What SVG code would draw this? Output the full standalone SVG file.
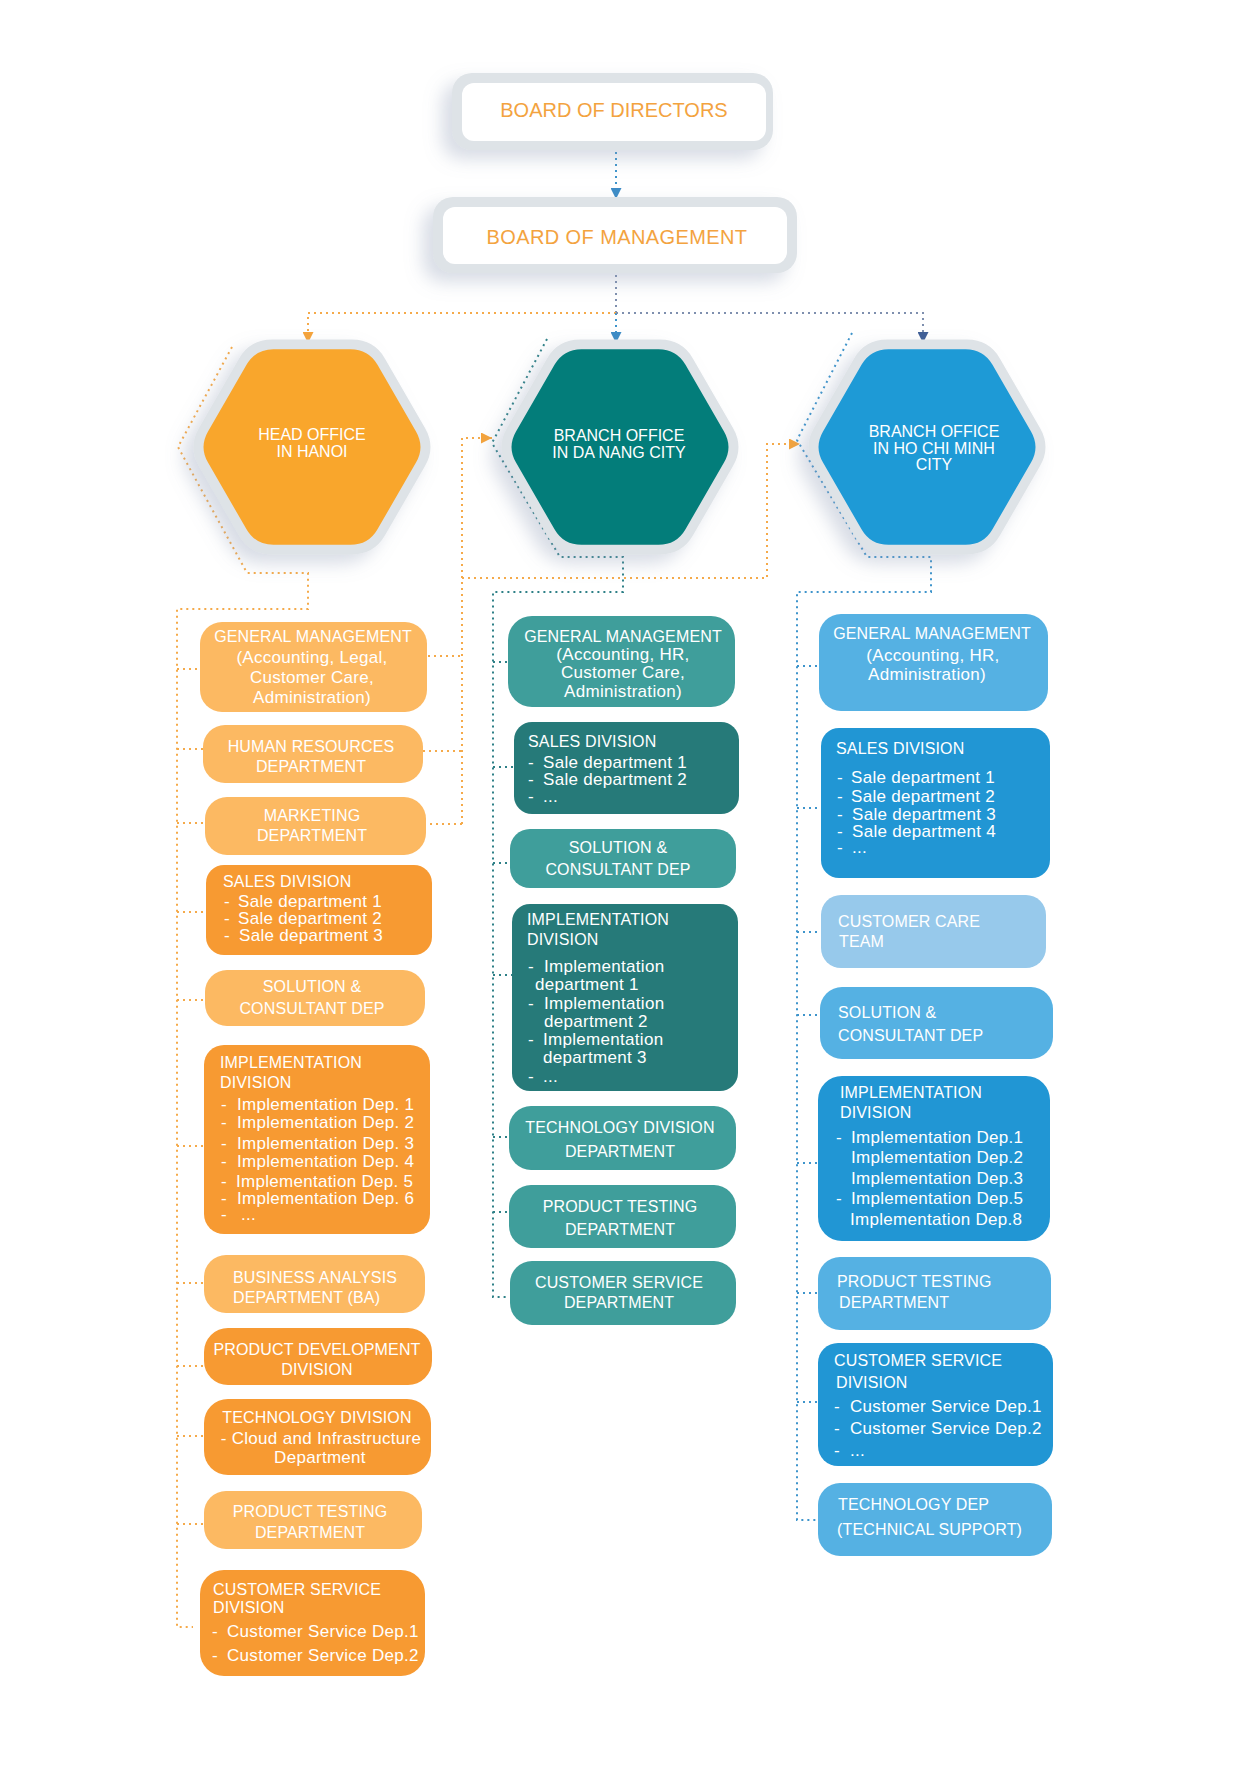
<svg xmlns="http://www.w3.org/2000/svg" xmlns:xlink="http://www.w3.org/1999/xlink" width="1241" height="1773" viewBox="0 0 1241 1773">
<style>
text{font-family:"Liberation Sans",Arial,sans-serif;fill:#fff}
.c{font-size:16px;letter-spacing:0.15px}
.l{font-size:17px;letter-spacing:0.3px}
.m{text-anchor:middle}
.board{font-size:20px;fill:#F3A33F;text-anchor:middle}
.hx{font-size:16px;text-anchor:middle}
.d{fill:none;stroke-width:2;stroke-dasharray:2 4}
.or{stroke:#F5AA4A}
.te{stroke:#2E8087}
.bl{stroke:#3E94CB}
.gb{stroke:#7E8FAE}
.oL{fill:#FCB962}.oD{fill:#F79A32}
.tL{fill:#3F9E9B}.tD{fill:#267A79}
.bL{fill:#55B1E3}.bD{fill:#2196D4}.bX{fill:#97C9EB}
.frame{fill:#DEE3E7}
</style>
<defs>
<filter id="sh" x="-30%" y="-30%" width="160%" height="170%">
<feDropShadow dx="-10" dy="9" stdDeviation="9" flood-color="#8E9AB5" flood-opacity="0.35"/>
</filter>
<path id="hexF" d="M40,-107.4 Q62,-107.4 73,-88.35 L113,-19.05 Q124,0 113,19.05 L73,88.35 Q62,107.4 40,107.4 L-40,107.4 Q-62,107.4 -73,88.35 L-113,19.05 Q-124,0 -113,-19.05 L-73,-88.35 Q-62,-107.4 -40,-107.4 Z"/>
<path id="hexI" d="M38.5,-97.86 Q56.5,-97.86 65.5,-82.27 L104,-15.59 Q113,0 104,15.59 L65.5,82.27 Q56.5,97.86 38.5,97.86 L-38.5,97.86 Q-56.5,97.86 -65.5,82.27 L-104,15.59 Q-113,0 -104,-15.59 L-65.5,-82.27 Q-56.5,-97.86 -38.5,-97.86 Z"/>
<marker id="aO" markerUnits="userSpaceOnUse" markerWidth="11" markerHeight="11" refX="10" refY="5" orient="auto" viewBox="0 0 10 10"><path d="M0,0 L10,5 L0,10 Z" fill="#F5A33A"/></marker>
<marker id="aB" markerUnits="userSpaceOnUse" markerWidth="11" markerHeight="11" refX="10" refY="5" orient="auto" viewBox="0 0 10 10"><path d="M0,0 L10,5 L0,10 Z" fill="#3D8CC6"/></marker>
<marker id="aN" markerUnits="userSpaceOnUse" markerWidth="11" markerHeight="11" refX="10" refY="5" orient="auto" viewBox="0 0 10 10"><path d="M0,0 L10,5 L0,10 Z" fill="#3F5E96"/></marker>
</defs>
<rect width="1241" height="1773" fill="#fff"/>

<g id="connectors">
<path class="d bl" d="M616,152 V199" marker-end="url(#aB)"/>
<path class="d gb" d="M616,275 V313"/>
<path class="d or" d="M616,313 H308 V343" marker-end="url(#aO)"/>
<path class="d bl" d="M616,313 V343" marker-end="url(#aB)"/>
<path class="d gb" d="M616,313 H923 V343" marker-end="url(#aN)"/>
<path class="d or" d="M232,347 L178,447 L247,573 H308 V609 H177 V1627 H193"/>
<path class="d or" d="M177,669 H200 M177,749 H203 M177,823 H205 M177,912 H206 M177,1000 H205 M177,1146 H204 M177,1283 H204 M177,1366 H204 M177,1436 H204 M177,1524 H204"/>
<path class="d or" d="M428,656 H462 M423,751 H462 M430,824 H462"/>
<path class="d or" d="M462,824 V438 H492" marker-end="url(#aO)"/>
<path class="d or" d="M462,578 H767 V444 H800" marker-end="url(#aO)"/>
<path class="d te" d="M547,339 L492,443 L560,557 H623 V592 H493 V1297 H508"/>
<path class="d te" d="M493,662 H508 M493,767 H514 M493,863 H510 M493,975 H512 M493,1137 H509 M493,1212 H509"/>
<path class="d bl" d="M852,333 L797,440 L867,557 H931 V592 H797 V1520 H818"/>
<path class="d bl" d="M797,666 H819 M797,808 H821 M797,932 H821 M797,1015 H820 M797,1163 H818 M797,1293 H818 M797,1402 H818"/>
</g>

<g id="board-of-directors">
<rect class="frame" x="452" y="73" width="321" height="77" rx="20" filter="url(#sh)"/>
<rect x="462" y="83" width="304" height="58" rx="12" fill="#fff"/>
<text class="board" x="614" y="117">BOARD OF DIRECTORS</text>
</g>
<g id="board-of-management">
<rect class="frame" x="433" y="197" width="364" height="76" rx="20" filter="url(#sh)"/>
<rect x="443" y="207" width="344" height="57" rx="12" fill="#fff"/>
<text class="board" x="617" y="244" letter-spacing="0.4">BOARD OF MANAGEMENT</text>
</g>

<g id="head-office-hanoi">
<use xlink:href="#hexF" x="312" y="447" class="frame" filter="url(#sh)"/>
<use xlink:href="#hexI" x="312" y="447" fill="#F9A62C"/>
<text class="hx" x="312" y="440">HEAD OFFICE</text>
<text class="hx" x="312" y="457">IN HANOI</text>
</g>
<g id="branch-da-nang">
<use xlink:href="#hexF" x="620" y="447" class="frame" filter="url(#sh)"/>
<use xlink:href="#hexI" x="620" y="447" fill="#037D7A"/>
<text class="hx" x="619" y="441">BRANCH OFFICE</text>
<text class="hx" x="619" y="458">IN DA NANG CITY</text>
</g>
<g id="branch-hcm">
<use xlink:href="#hexF" x="927" y="447" class="frame" filter="url(#sh)"/>
<use xlink:href="#hexI" x="927" y="447" fill="#1E9AD6"/>
<text class="hx" x="934" y="437">BRANCH OFFICE</text>
<text class="hx" x="934" y="454">IN HO CHI MINH</text>
<text class="hx" x="934" y="470">CITY</text>
</g>

<!-- Hanoi column -->
<g id="hn-general-management">
<rect class="oL" x="200" y="622" width="227" height="90" rx="22"/>
<text class="c m" x="313" y="642">GENERAL MANAGEMENT</text>
<text class="l m" x="312" y="663">(Accounting, Legal,</text>
<text class="l m" x="312" y="683">Customer Care,</text>
<text class="l m" x="312" y="703">Administration)</text>
</g>
<g id="hn-hr">
<rect class="oL" x="203" y="725" width="220" height="58" rx="22"/>
<text class="c m" x="311" y="752">HUMAN RESOURCES</text>
<text class="c m" x="311" y="772">DEPARTMENT</text>
</g>
<g id="hn-marketing">
<rect class="oL" x="205" y="797" width="221" height="58" rx="22"/>
<text class="c m" x="312" y="821">MARKETING</text>
<text class="c m" x="312" y="841">DEPARTMENT</text>
</g>
<g id="hn-sales">
<rect class="oD" x="206" y="865" width="226" height="90" rx="18"/>
<text class="c" x="223" y="887">SALES DIVISION</text>
<text class="l" y="907"><tspan x="224">-</tspan><tspan x="238">Sale department 1</tspan></text>
<text class="l" y="924"><tspan x="224">-</tspan><tspan x="238">Sale department 2</tspan></text>
<text class="l" y="941"><tspan x="224">-</tspan><tspan x="239">Sale department 3</tspan></text>
</g>
<g id="hn-solution">
<rect class="oL" x="205" y="970" width="220" height="56" rx="22"/>
<text class="c m" x="312" y="992">SOLUTION &amp;</text>
<text class="c m" x="312" y="1014">CONSULTANT DEP</text>
</g>
<g id="hn-implementation">
<rect class="oD" x="204" y="1045" width="226" height="189" rx="20"/>
<text class="c" x="220" y="1068">IMPLEMENTATION</text>
<text class="c" x="220" y="1088">DIVISION</text>
<text class="l" y="1110"><tspan x="221">-</tspan><tspan x="237">Implementation Dep. 1</tspan></text>
<text class="l" y="1128"><tspan x="221">-</tspan><tspan x="237">Implementation Dep. 2</tspan></text>
<text class="l" y="1149"><tspan x="221">-</tspan><tspan x="237">Implementation Dep. 3</tspan></text>
<text class="l" y="1167"><tspan x="221">-</tspan><tspan x="237">Implementation Dep. 4</tspan></text>
<text class="l" y="1187"><tspan x="221">-</tspan><tspan x="236">Implementation Dep. 5</tspan></text>
<text class="l" y="1204"><tspan x="221">-</tspan><tspan x="237">Implementation Dep. 6</tspan></text>
<text class="l" y="1220"><tspan x="221">-</tspan><tspan x="241">...</tspan></text>
</g>
<g id="hn-ba">
<rect class="oL" x="204" y="1255" width="221" height="58" rx="22"/>
<text class="c" x="233" y="1283">BUSINESS ANALYSIS</text>
<text class="c" x="233" y="1303">DEPARTMENT (BA)</text>
</g>
<g id="hn-product-development">
<rect class="oD" x="204" y="1328" width="228" height="57" rx="24"/>
<text class="c m" x="317" y="1355">PRODUCT DEVELOPMENT</text>
<text class="c m" x="317" y="1375">DIVISION</text>
</g>
<g id="hn-technology">
<rect class="oD" x="204" y="1399" width="227" height="76" rx="24"/>
<text class="c m" x="317" y="1423">TECHNOLOGY DIVISION</text>
<text class="l m" x="321" y="1444">- Cloud and Infrastructure</text>
<text class="l m" x="320" y="1463">Department</text>
</g>
<g id="hn-product-testing">
<rect class="oL" x="204" y="1491" width="218" height="58" rx="22"/>
<text class="c m" x="310" y="1517">PRODUCT TESTING</text>
<text class="c m" x="310" y="1538">DEPARTMENT</text>
</g>
<g id="hn-customer-service">
<rect class="oD" x="200" y="1570" width="225" height="106" rx="24"/>
<text class="c" x="213" y="1595">CUSTOMER SERVICE</text>
<text class="c" x="213" y="1613">DIVISION</text>
<text class="l" y="1637"><tspan x="212">-</tspan><tspan x="227">Customer Service Dep.1</tspan></text>
<text class="l" y="1661"><tspan x="212">-</tspan><tspan x="227">Customer Service Dep.2</tspan></text>
</g>

<!-- Da Nang column -->
<g id="dn-general-management">
<rect class="tL" x="508" y="616" width="227" height="91" rx="24"/>
<text class="c m" x="623" y="642">GENERAL MANAGEMENT</text>
<text class="l m" x="623" y="660">(Accounting, HR,</text>
<text class="l m" x="623" y="678">Customer Care,</text>
<text class="l m" x="623" y="697">Administration)</text>
</g>
<g id="dn-sales">
<rect class="tD" x="514" y="722" width="225" height="92" rx="18"/>
<text class="c" x="528" y="747">SALES DIVISION</text>
<text class="l" y="768"><tspan x="528">-</tspan><tspan x="543">Sale department 1</tspan></text>
<text class="l" y="785"><tspan x="528">-</tspan><tspan x="543">Sale department 2</tspan></text>
<text class="l" y="802"><tspan x="528">-</tspan><tspan x="543">...</tspan></text>
</g>
<g id="dn-solution">
<rect class="tL" x="510" y="829" width="226" height="59" rx="20"/>
<text class="c m" x="618" y="853">SOLUTION &amp;</text>
<text class="c m" x="618" y="875">CONSULTANT DEP</text>
</g>
<g id="dn-implementation">
<rect class="tD" x="512" y="904" width="226" height="187" rx="18"/>
<text class="c" x="527" y="925">IMPLEMENTATION</text>
<text class="c" x="527" y="945">DIVISION</text>
<text class="l" y="972"><tspan x="528">-</tspan><tspan x="544">Implementation</tspan></text>
<text class="l" x="535" y="990">department 1</text>
<text class="l" y="1009"><tspan x="528">-</tspan><tspan x="544">Implementation</tspan></text>
<text class="l" x="544" y="1027">department 2</text>
<text class="l" y="1045"><tspan x="528">-</tspan><tspan x="543">Implementation</tspan></text>
<text class="l" x="543" y="1063">department 3</text>
<text class="l" y="1082"><tspan x="528">-</tspan><tspan x="543">...</tspan></text>
</g>
<g id="dn-technology">
<rect class="tL" x="509" y="1106" width="227" height="64" rx="22"/>
<text class="c m" x="620" y="1133">TECHNOLOGY DIVISION</text>
<text class="c m" x="620" y="1157">DEPARTMENT</text>
</g>
<g id="dn-product-testing">
<rect class="tL" x="509" y="1185" width="227" height="63" rx="22"/>
<text class="c m" x="620" y="1212">PRODUCT TESTING</text>
<text class="c m" x="620" y="1235">DEPARTMENT</text>
</g>
<g id="dn-customer-service">
<rect class="tL" x="510" y="1261" width="226" height="64" rx="22"/>
<text class="c m" x="619" y="1288">CUSTOMER SERVICE</text>
<text class="c m" x="619" y="1308">DEPARTMENT</text>
</g>

<!-- HCM column -->
<g id="hcm-general-management">
<rect class="bL" x="819" y="614" width="229" height="97" rx="22"/>
<text class="c m" x="932" y="639">GENERAL MANAGEMENT</text>
<text class="l m" x="933" y="661">(Accounting, HR,</text>
<text class="l m" x="927" y="680">Administration)</text>
</g>
<g id="hcm-sales">
<rect class="bD" x="821" y="728" width="229" height="150" rx="18"/>
<text class="c" x="836" y="754">SALES DIVISION</text>
<text class="l" y="783"><tspan x="837">-</tspan><tspan x="851">Sale department 1</tspan></text>
<text class="l" y="802"><tspan x="837">-</tspan><tspan x="851">Sale department 2</tspan></text>
<text class="l" y="820"><tspan x="837">-</tspan><tspan x="852">Sale department 3</tspan></text>
<text class="l" y="837"><tspan x="837">-</tspan><tspan x="852">Sale department 4</tspan></text>
<text class="l" y="853"><tspan x="837">-</tspan><tspan x="852">...</tspan></text>
</g>
<g id="hcm-customer-care">
<rect class="bX" x="821" y="895" width="225" height="73" rx="20"/>
<text class="c" x="838" y="927">CUSTOMER CARE</text>
<text class="c" x="839" y="947">TEAM</text>
</g>
<g id="hcm-solution">
<rect class="bL" x="820" y="987" width="233" height="72" rx="22"/>
<text class="c" x="838" y="1018">SOLUTION &amp;</text>
<text class="c" x="838" y="1041">CONSULTANT DEP</text>
</g>
<g id="hcm-implementation">
<rect class="bD" x="818" y="1076" width="232" height="165" rx="24"/>
<text class="c" x="840" y="1098">IMPLEMENTATION</text>
<text class="c" x="840" y="1118">DIVISION</text>
<text class="l" y="1143"><tspan x="836">-</tspan><tspan x="851">Implementation Dep.1</tspan></text>
<text class="l" x="851" y="1163">Implementation Dep.2</text>
<text class="l" x="851" y="1184">Implementation Dep.3</text>
<text class="l" y="1204"><tspan x="836">-</tspan><tspan x="851">Implementation Dep.5</tspan></text>
<text class="l" x="850" y="1225">Implementation Dep.8</text>
</g>
<g id="hcm-product-testing">
<rect class="bL" x="818" y="1257" width="233" height="73" rx="22"/>
<text class="c" x="837" y="1287">PRODUCT TESTING</text>
<text class="c" x="839" y="1308">DEPARTMENT</text>
</g>
<g id="hcm-customer-service">
<rect class="bD" x="818" y="1343" width="235" height="123" rx="20"/>
<text class="c" x="834" y="1366">CUSTOMER SERVICE</text>
<text class="c" x="836" y="1388">DIVISION</text>
<text class="l" y="1412"><tspan x="834">-</tspan><tspan x="850">Customer Service Dep.1</tspan></text>
<text class="l" y="1434"><tspan x="834">-</tspan><tspan x="850">Customer Service Dep.2</tspan></text>
<text class="l" y="1456"><tspan x="834">-</tspan><tspan x="850">...</tspan></text>
</g>
<g id="hcm-technology">
<rect class="bL" x="818" y="1483" width="234" height="73" rx="22"/>
<text class="c" x="838" y="1510">TECHNOLOGY DEP</text>
<text class="c" x="837" y="1535">(TECHNICAL SUPPORT)</text>
</g>
</svg>
